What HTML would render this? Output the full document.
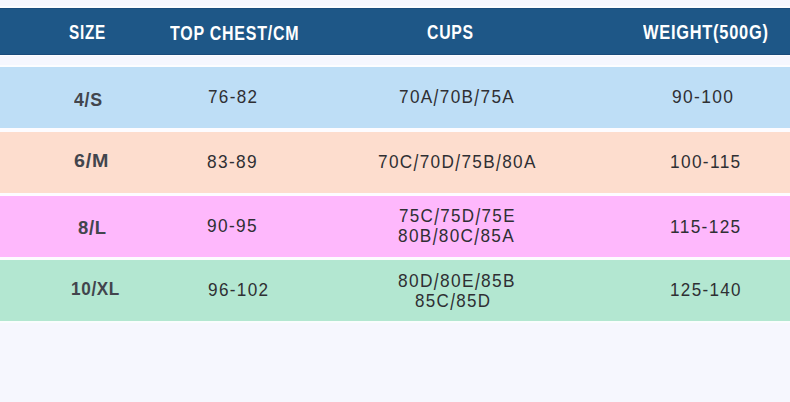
<!DOCTYPE html>
<html><head><meta charset="utf-8"><style>
html,body{margin:0;padding:0}
body{width:790px;height:402px;position:relative;overflow:hidden;background:#f6f7fe;font-family:"Liberation Sans",sans-serif}
.bar{position:absolute;left:0;width:790px}
.hd{top:8px;height:46.7px;background:#1e5787;box-shadow:inset 0 1px 0 #1a4c7d, inset 0 -1px 0 #1a4b7b}
.r1{top:67px;height:61px;background:#bedef6}
.r2{top:132px;height:60.5px;background:#fdddce}
.r3{top:196px;height:60.5px;background:#feb8fc}
.r4{top:260px;height:60.6px;background:#b3e7d1}
.t{position:absolute;white-space:pre;line-height:1;transform-origin:0 0}
.sl{display:inline-block;transform-origin:50% 3.6px}
.b .sl{transform:scaleY(1.25)}
.s .sl{transform:scaleY(1.08)}
.h{font-size:21px;font-weight:bold;letter-spacing:1.0px;color:#ffffff}
.s{font-size:19px;font-weight:bold;letter-spacing:0.7px;color:#42454d}
.b{font-size:19px;font-weight:normal;letter-spacing:1.5px;color:#2f2f33}
</style></head><body>
<div class="bar" style="top:6px;height:2px;background:#fcfdff"></div>
<div class="bar" style="top:54px;height:2px;background:#fcfdff"></div>
<div class="bar" style="top:65px;height:2px;background:#fcfdff"></div>
<div class="bar" style="top:126px;height:8px;background:#fdfcff"></div>
<div class="bar" style="top:190px;height:8px;background:#fdfcff"></div>
<div class="bar" style="top:254px;height:8px;background:#fdfcff"></div>
<div class="bar" style="top:320px;height:3px;background:#f9fdfd"></div>
<div class="bar hd"></div>
<div class="bar r1"></div>
<div class="bar r2"></div>
<div class="bar r3"></div>
<div class="bar r4"></div>
<div class="t h" style="left:69.17px;top:21.30px;transform:scaleX(0.7271)">SIZE</div>
<div class="t h" style="left:170.20px;top:21.75px;transform:scaleX(0.7607)">TOP CHEST/CM</div>
<div class="t h" style="left:426.95px;top:21.20px;transform:scaleX(0.7508)">CUPS</div>
<div class="t h" style="left:642.90px;top:21.00px;transform:scaleX(0.7792)">WEIGHT(500G)</div>
<div class="t s" style="left:74.20px;top:89.70px;transform:scaleX(0.9345)">4<span class="sl">/</span>S</div>
<div class="t s" style="left:73.56px;top:150.50px;transform:scaleX(1.0355)">6<span class="sl">/</span>M</div>
<div class="t s" style="left:77.83px;top:217.50px;transform:scaleX(0.9704)">8<span class="sl">/</span>L</div>
<div class="t s" style="left:71.10px;top:278.95px;transform:scaleX(0.9038)">10<span class="sl">/</span>XL</div>
<div class="t b" style="left:207.70px;top:87.30px;transform:scaleX(0.8981)">76-82</div>
<div class="t b" style="left:207.29px;top:152.20px;transform:scaleX(0.9094)">83-89</div>
<div class="t b" style="left:207.29px;top:216.25px;transform:scaleX(0.9094)">90-95</div>
<div class="t b" style="left:207.60px;top:280.05px;transform:scaleX(0.9015)">96-102</div>
<div class="t b" style="left:398.85px;top:87.35px;transform:scaleX(0.9036)">70A<span class="sl">/</span>70B<span class="sl">/</span>75A</div>
<div class="t b" style="left:378.10px;top:152.05px;transform:scaleX(0.9040)">70C<span class="sl">/</span>70D<span class="sl">/</span>75B<span class="sl">/</span>80A</div>
<div class="t b" style="left:399.11px;top:206.35px;transform:scaleX(0.8945)">75C<span class="sl">/</span>75D<span class="sl">/</span>75E</div>
<div class="t b" style="left:398.30px;top:225.85px;transform:scaleX(0.9039)">80B<span class="sl">/</span>80C<span class="sl">/</span>85A</div>
<div class="t b" style="left:398.29px;top:270.90px;transform:scaleX(0.9111)">80D<span class="sl">/</span>80E<span class="sl">/</span>85B</div>
<div class="t b" style="left:415.11px;top:290.95px;transform:scaleX(0.8939)">85C<span class="sl">/</span>85D</div>
<div class="t b" style="left:672.48px;top:87.45px;transform:scaleX(0.9154)">90-100</div>
<div class="t b" style="left:669.69px;top:151.60px;transform:scaleX(0.9079)">100-115</div>
<div class="t b" style="left:669.59px;top:216.50px;transform:scaleX(0.9079)">115-125</div>
<div class="t b" style="left:669.60px;top:280.35px;transform:scaleX(0.8961)">125-140</div>
</body></html>
